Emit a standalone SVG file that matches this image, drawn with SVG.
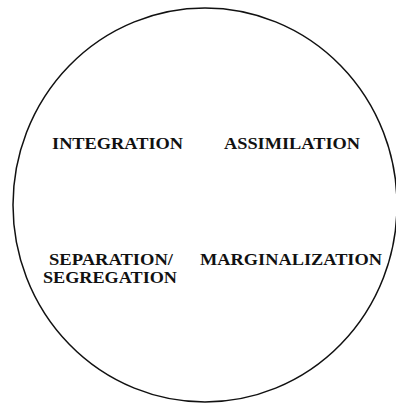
<svg xmlns="http://www.w3.org/2000/svg" width="396" height="403" viewBox="0 0 396 403">
<style>
.t{font-family:"Liberation Serif","Times New Roman",serif;font-weight:bold;font-size:16px;fill:#111}
</style>
<rect width="396" height="403" fill="#fff"/>
<g id="circle"><ellipse cx="205" cy="205" rx="192" ry="197" fill="none" stroke="#111" stroke-width="1.5"/></g>
<g id="integration"><text class="t" x="52" y="149" textLength="131" lengthAdjust="spacingAndGlyphs">INTEGRATION</text></g>
<g id="assimilation"><text class="t" x="224" y="149" textLength="136" lengthAdjust="spacingAndGlyphs">ASSIMILATION</text></g>
<g id="separation"><text class="t" x="49" y="265" textLength="124" lengthAdjust="spacingAndGlyphs">SEPARATION/</text><text class="t" x="43" y="283" textLength="134" lengthAdjust="spacingAndGlyphs">SEGREGATION</text></g>
<g id="marginalization"><text class="t" x="200" y="265" textLength="182" lengthAdjust="spacingAndGlyphs">MARGINALIZATION</text></g>
<g id="connectors"/>
</svg>
